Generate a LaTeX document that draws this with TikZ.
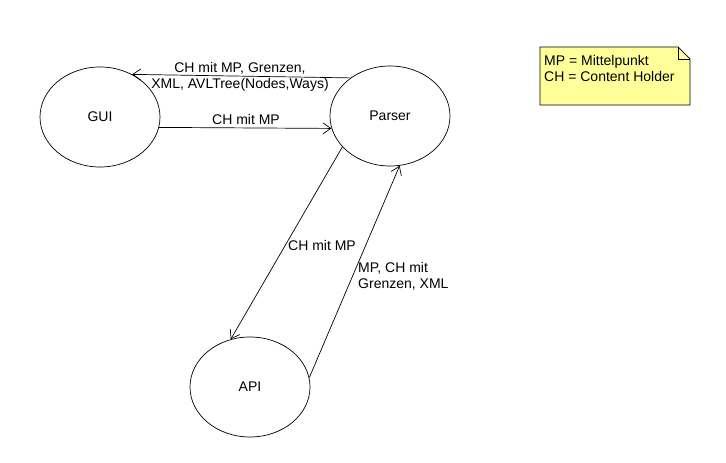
\documentclass[tikz,border=0pt]{standalone}
\usepackage{fontspec}
\setmainfont{Liberation Sans}
\usetikzlibrary{arrows.meta,shapes.geometric}
\definecolor{notefill}{RGB}{255,255,153}

\begin{document}
\begin{tikzpicture}[
  x=1pt, y=1pt,
  comp/.style={ellipse, draw, line width=0.7pt, inner sep=0pt,
               minimum width=120pt, minimum height=100pt,
               font=\fontsize{14}{16}\selectfont},
  arr/.style={-{Straight Barb[length=8pt,width=11pt]}, line width=0.7pt},
  lbl/.style={font=\fontsize{14}{16}\selectfont, inner sep=0pt},
  notebox/.style={draw, fill=notefill, line width=0.7pt}
]
  \useasboundingbox (0,0) rectangle (726,463);

  \node[comp] (gui) at (100,346) {GUI};
  \node[comp] (parser) at (390,347) {Parser};
  \node[comp] (api) at (250,76) {API};

  % connectors
  \draw[arr] (parser.136) -- (gui.53);
  \draw[arr] (gui.-10) -- (parser.192);
  \draw[arr] (parser.213) -- (api.112);
  \draw[arr] (api.9) -- (parser.-79);

  \node[lbl, align=center] (l1) at (240,386)
    {CH mit MP, Grenzen,\\XML, AVLTree(Nodes,Ways)};
  \node[lbl] (l2) at (246,343) {CH mit MP};
  \node[lbl] (l3) at (322,218) {CH mit MP};
  \node[lbl, align=left, anchor=west] (l4) at (358,187)
    {MP, CH mit\\Grenzen, XML};

  % legend note
  \draw[notebox] (540,416) -- (678,416) -- (690,404) -- (690,358)
    -- (540,358) -- cycle;
  \draw[line width=0.7pt] (678,416) -- (678,404) -- (690,404);
  \node[lbl, align=left, anchor=west] (legend) at (544,394)
    {MP = Mittelpunkt\\CH = Content Holder};
\end{tikzpicture}
\end{document}
